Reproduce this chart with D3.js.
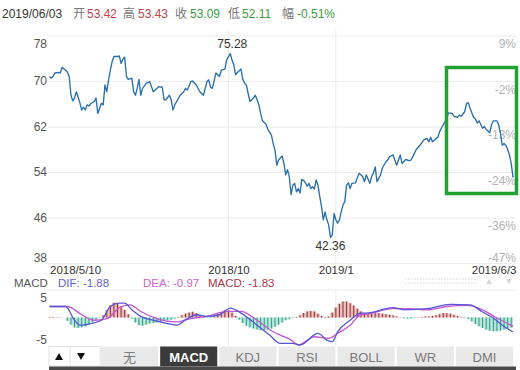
<!DOCTYPE html>
<html>
<head>
<meta charset="utf-8">
<script src="https://d3js.org/d3.v7.min.js"></script>
<style type="text/css">
    body{ margin: 0; background: #fff }
    svg{ font-family: "Liberation Sans", "Noto Sans CJK SC", sans-serif; }
    .grid line{ stroke: #ececec }
    .grid .domain, .noline .domain{ display: none }
</style>
</head>
<body>
<script type="text/javascript">
var width = 520,
    height = 370;

// header (last day)
var headDate = '2019/06/03';
var headLabels = ['开', '高', '收', '低', '幅'];
var headValues = ['53.42', '53.43', '53.09', '52.11', '-0.51%'];

// close prices: [trading day index, close]
var price = [
    [0,70.8],[1,70.5],[2,70.8],[3,71.4],[5,71.5],[6,71.4],[7,72.4],[9,71.9],[10,71.6],[11,70.8],
    [12,67.5],[13,66.5],[14,67.0],[15,68.1],[16,67.2],[17,66.1],[18,64.9],[19,65.4],[20,64.9],[21,65.8],
    [22,65.6],[23,66.0],[25,66.4],[26,67.0],[27,64.3],[28,65.2],[29,66.1],[30,65.8],[31,69.3],[32,68.1],
    [33,70.2],[34,71.9],[35,73.4],[36,74.3],[38,74.3],[39,74.4],[40,73.1],[41,73.8],[42,74.2],[43,70.8],
    [44,70.3],[46,70.5],[47,68.1],[48,67.5],[49,68.7],[50,70.3],[51,67.5],[52,68.7],[54,69.6],[56,69.9],
    [57,69.0],[58,68.1],[60,68.7],[61,69.0],[63,68.9],[64,66.7],[65,66.7],[67,67.5],[68,66.7],[69,64.9],
    [70,65.8],[73,67.5],[75,68.1],[76,68.7],[77,68.4],[79,69.9],[80,70.0],[82,69.3],[84,68.1],[86,67.5],
    [88,69.9],[89,70.2],[90,68.9],[91,68.7],[93,71.4],[95,70.8],[96,71.9],[98,72.1],[99,73.7],[101,74.8],
    [102,73.7],[103,72.8],[104,71.1],[105,71.5],[107,72.1],[108,70.3],[109,69.6],[110,69.3],[111,67.8],[112,66.4],
    [114,67.0],[115,67.5],[116,66.7],[117,65.8],[118,64.3],[119,63.0],[121,62.4],[122,61.5],[124,60.5],[125,59.0],
    [126,57.9],[127,55.2],[128,56.1],[130,56.8],[131,55.5],[132,53.5],[133,54.4],[134,53.2],[135,50.0],[136,51.7],
    [137,52.0],[138,50.5],[139,51.1],[140,50.3],[141,52.7],[142,52.5],[143,52.1],[144,51.5],[145,52.0],[146,51.1],
    [147,51.4],[148,51.0],[149,52.6],[150,51.7],[151,49.7],[152,47.9],[153,45.6],[154,47.0],[155,45.6],[156,44.7],
    [157,42.5],[158,42.9],[159,46.7],[160,45.6],[161,45.0],[162,45.6],[163,47.0],[164,48.2],[165,48.8],[166,51.7],
    [167,52.1],[168,51.1],[169,52.0],[171,52.1],[173,53.8],[175,53.2],[176,52.3],[177,53.5],[179,52.0],[180,53.2],
    [181,53.8],[182,54.9],[183,52.3],[185,53.5],[186,54.7],[188,55.8],[189,56.1],[190,56.7],[192,57.0],[194,55.2],
    [195,56.1],[196,57.0],[197,55.5],[199,56.2],[201,56.0],[202,56.1],[203,56.7],[205,58.0],[207,58.7],[209,59.6],
    [211,59.9],[212,59.3],[213,60.1],[214,59.3],[216,59.9],[217,60.1],[218,61.1],[220,62.3],[221,62.8],[223,64.4],
    [225,64.3],[226,63.8],[228,63.6],[229,64.0],[230,63.8],[232,64.6],[233,66.0],[234,66.2],[235,65.2],[237,63.6],
    [238,63.3],[239,62.6],[240,63.0],[242,61.7],[243,62.0],[244,61.5],[246,60.9],[247,62.3],[248,63.0],[250,63.0],
    [251,62.3],[252,60.8],[253,58.7],[254,59.0],[255,58.7],[256,58.0],[257,57.0],[258,55.5],[259,53.09]
];
var highMark = '75.28',
    lowMark = '42.36';

var priceTicks = [78, 70, 62, 54, 46, 38];
var pctLabels = ['9%', '-2%', '-13%', '-24%', '-36%', '-47%'];
var dateTickDays = [0, 100, 160, 259];
var dateLabels = ['2018/5/10', '2018/10', '2019/1', '2019/6/3'];

// MACD panel
var macdLegend = ['DIF: -1.88', 'DEA: -0.97', 'MACD: -1.83'];
var dif = [
    [0,2.0],[9,2.0],[14,-0.5],[17,-1.4],[23,-1.1],[29,-0.5],[34,2.0],[39,2.6],[42,2.6],[46,1.4],
    [51,0.2],[58,-0.5],[66,-1.1],[71,-1.4],[77,-0.2],[82,0.5],[88,0.2],[95,0.5],[101,1.7],[107,0.8],
    [116,-1.4],[123,-3.2],[129,-4.7],[136,-4.7],[140,-5.0],[150,-2.9],[155,-4.1],[158,-4.4],[161,-2.6],[168,-0.5],
    [174,0.8],[177,0.8],[192,1.8],[198,1.4],[211,1.6],[224,2.4],[235,2.3],[242,1.0],[248,-0.1],[253,-1.4],[259,-2.6]
];
var dea = [
    [0,2.0],[10,2.0],[18,0.5],[25,-0.5],[32,-0.2],[40,2.0],[45,2.3],[51,1.1],[60,-0.2],[71,-0.8],
    [79,-0.2],[88,0.2],[99,1.1],[107,1.1],[116,-0.5],[125,-2.6],[129,-3.2],[135,-4.1],[139,-5.0],[148,-3.5],
    [156,-3.8],[161,-2.9],[168,-1.4],[174,0.5],[177,0.6],[192,1.6],[201,1.6],[211,1.4],[222,2.0],[233,2.2],
    [242,1.4],[248,0.3],[253,-0.6],[259,-1.6]
];
// histogram, one value every 2 trading days
var macdBars = [
    0.1,0.1,0.05,0.05,0,-0.6,-1.3,-1.8,-1.9,-1.8,
    -1.6,-1.2,-0.8,-0.4,-0.1,0.4,1.3,2.2,2.7,2.5,
    2.0,1.4,0.6,-0.2,-0.9,-1.4,-1.5,-1.3,-1.1,-1.0,
    -0.9,-0.7,-0.6,-0.5,-0.4,-0.2,0.1,0.4,0.7,0.9,
    1.05,0.8,0.4,0.1,-0.1,-0.1,0.2,0.6,1.0,1.3,
    1.3,0.9,0.3,-0.4,-1.0,-1.5,-1.8,-2.0,-2.2,-2.3,
    -2.3,-2.2,-2.0,-1.7,-1.3,-0.9,-0.5,-0.3,-0.1,0.1,
    0.4,0.8,1.1,1.2,1.1,0.7,0.3,0.1,0.2,0.9,
    1.8,2.5,2.9,2.9,2.6,2.2,1.6,1.1,0.8,0.7,
    0.7,0.8,0.8,0.7,0.6,0.5,0.4,0.2,0.05,-0.15,
    -0.2,-0.2,-0.1,0.05,0.1,0.2,0.2,0.3,0.4,0.6,
    0.8,0.8,0.7,0.5,0.3,0.1,-0.1,-0.3,-0.7,-1.2,
    -1.6,-1.9,-2.2,-2.4,-2.5,-2.5,-2.4,-2.2,-2.0,-1.83
];
var macdTicks = [5, -5];

var tabs = ['无', 'MACD', 'KDJ', 'RSI', 'BOLL', 'WR', 'DMI'];
var activeTab = 'MACD';

var svg = d3.select('body')
    .append('svg')
        .attr('width', width)
        .attr('height', height);

var x = d3.scaleLinear().domain([0, 259]).range([49.5, 513]);
var y = d3.scaleLinear().domain([38, 78]).range([263, 35.5]);
var ym = d3.scaleLinear().domain([-5, 5]).range([345, 290]);

// header line
var head = svg.append('g').attr('font-size', 12);
head.append('text').attr('x', 2).attr('y', 18).attr('fill', '#333').text(headDate);
var headLabelX = [73, 123, 175, 228, 282],
    headValueX = [87, 138, 190, 242, 297],
    headColor = ['#c8414d', '#c8414d', '#3f9a45', '#3f9a45', '#3f9a45'];
head.selectAll('text.lab')
    .data(headLabels)
    .enter()
    .append('text')
        .attr('class', 'lab')
        .attr('x', function(d, i){ return headLabelX[i]; })
        .attr('y', 18)
        .attr('fill', '#777')
        .text(function(d){ return d; });
head.selectAll('text.val')
    .data(headValues)
    .enter()
    .append('text')
        .attr('class', 'val')
        .attr('x', function(d, i){ return headValueX[i]; })
        .attr('y', 18)
        .attr('fill', function(d, i){ return headColor[i]; })
        .text(function(d){ return d; });

// vertical grid lines (main + macd)
var vgrid = svg.append('g');
[[30, 263], [290, 346]].forEach(function(r){
    vgrid.selectAll(null)
        .data(dateTickDays.slice(1, 3))
        .enter()
        .append('line')
            .attr('x1', function(d){ return x(d); })
            .attr('x2', function(d){ return x(d); })
            .attr('y1', r[0])
            .attr('y2', r[1])
            .attr('stroke', '#ececec');
});

// left price axis with horizontal grid
var leftAxis = svg.append('g')
    .attr('class', 'grid')
    .attr('transform', 'translate(48,0)')
    .call(d3.axisLeft(y).tickValues(priceTicks).tickSize(-468).tickPadding(1));
leftAxis.selectAll('text')
    .attr('font-size', 12)
    .attr('fill', '#555')
    .attr('dy', function(d, i){ return i == 0 ? '1em' : (i == priceTicks.length - 1 ? '-0.12em' : '0.32em'); });

// right percent axis
var rightAxis = svg.append('g')
    .attr('class', 'noline')
    .attr('transform', 'translate(516,0)')
    .call(d3.axisRight(y).tickValues(priceTicks).tickSize(0).tickPadding(0)
        .tickFormat(function(d, i){ return pctLabels[i]; }));
rightAxis.selectAll('text')
    .attr('font-size', 12)
    .attr('fill', '#b3b3b3')
    .attr('text-anchor', 'end')
    .attr('x', 0)
    .attr('dy', function(d, i){ return i == priceTicks.length - 1 ? '-0.12em' : '1em'; });

// date axis
var xAxis = svg.append('g')
    .attr('class', 'noline')
    .attr('transform', 'translate(0,263)')
    .call(d3.axisBottom(x).tickValues(dateTickDays).tickSize(0).tickPadding(3)
        .tickFormat(function(d, i){ return dateLabels[i]; }));
xAxis.selectAll('text')
    .attr('font-size', 11.5)
    .attr('fill', '#333')
    .attr('text-anchor', function(d, i){ return i == 0 ? 'start' : (i == dateLabels.length - 1 ? 'end' : 'middle'); })
    .attr('dx', function(d, i){ return i == dateLabels.length - 1 ? 3 : 0; });

// price line
svg.append('path')
    .datum(price)
    .attr('fill', 'none')
    .attr('stroke', '#2a70ac')
    .attr('stroke-width', 1.35)
    .attr('stroke-linejoin', 'round')
    .attr('d', d3.line()
        .x(function(d){ return x(d[0]); })
        .y(function(d){ return y(d[1]); }));

// high / low marks
var hi = d3.greatest(price, function(d){ return d[1]; }),
    lo = d3.least(price, function(d){ return d[1]; });
svg.append('text')
    .attr('x', x(hi[0]) + 2).attr('y', y(+highMark) - 2.5)
    .attr('text-anchor', 'middle').attr('font-size', 12).attr('fill', '#333')
    .text(highMark);
svg.append('text')
    .attr('x', x(lo[0])).attr('y', y(+lowMark) + 11.5)
    .attr('text-anchor', 'middle').attr('font-size', 12).attr('fill', '#333')
    .text(lowMark);

// highlight box
svg.append('rect')
    .attr('x', 446.5).attr('y', 67.5)
    .attr('width', 70).attr('height', 126)
    .attr('fill', 'none')
    .attr('stroke', '#20a232')
    .attr('stroke-width', 3.5);

// faint zoom controls next to last date
var ctl = svg.append('g');
[279, 283].forEach(function(yy){
    ctl.append('line').attr('x1', 405).attr('x2', 478).attr('y1', yy).attr('y2', yy)
        .attr('stroke', '#d4d4d4').attr('stroke-dasharray', '1.5,1.5');
});
ctl.append('path').attr('d', 'M486,284 L492,284 L489,279 Z').attr('fill', '#d8d8d8');
ctl.append('path').attr('d', 'M506,279 L512,279 L509,284 Z').attr('fill', '#d8d8d8');

// macd legend
var leg = svg.append('g').attr('font-size', 11.5);
leg.append('text').attr('x', 14).attr('y', 287).attr('fill', '#555').text('MACD');
var legX = [58, 143, 208],
    legColor = ['#6262d4', '#cc66cc', '#b03845'];
leg.selectAll('text.it')
    .data(macdLegend)
    .enter()
    .append('text')
        .attr('class', 'it')
        .attr('x', function(d, i){ return legX[i]; })
        .attr('y', 287)
        .attr('fill', function(d, i){ return legColor[i]; })
        .text(function(d){ return d; });

// macd panel top line + axis
svg.append('line').attr('x1', 48).attr('x2', 516).attr('y1', 290).attr('y2', 290).attr('stroke', '#ececec');
var macdAxis = svg.append('g')
    .attr('class', 'noline')
    .attr('transform', 'translate(48,0)')
    .call(d3.axisLeft(ym).tickValues(macdTicks).tickSize(0).tickPadding(1)
        .tickFormat(function(d){ return String(d); }));
macdAxis.selectAll('text')
    .attr('font-size', 12)
    .attr('fill', '#555')
    .attr('dy', function(d, i){ return i == 0 ? '0.95em' : '-0.15em'; });

// histogram
var bars = svg.append('g');
bars.selectAll('rect')
    .data(macdBars)
    .enter()
    .append('rect')
        .attr('x', function(d, i){ return x(i * 2) - 1.8; })
        .attr('width', 3.6)
        .attr('y', function(d){ return ym(Math.max(0, d)); })
        .attr('height', function(d){ return Math.abs(ym(d) - ym(0)); })
        .attr('fill', function(d){ return d >= 0 ? '#e2b9b9' : '#b3e2d6'; });
bars.selectAll('line')
    .data(macdBars)
    .enter()
    .append('line')
        .attr('x1', function(d, i){ return x(i * 2); })
        .attr('x2', function(d, i){ return x(i * 2); })
        .attr('y1', function(d){ return ym(0); })
        .attr('y2', function(d){ return ym(d); })
        .attr('stroke', function(d){ return d >= 0 ? '#9c2f33' : '#2b9f86'; })
        .attr('stroke-width', 1);

var mline = d3.line()
    .curve(d3.curveMonotoneX)
    .x(function(d){ return x(d[0]); })
    .y(function(d){ return ym(d[1]); });
svg.append('path').datum(dea)
    .attr('fill', 'none').attr('stroke', '#c655d4').attr('stroke-width', 1.3).attr('d', mline);
svg.append('path').datum(dif)
    .attr('fill', 'none').attr('stroke', '#5656d6').attr('stroke-width', 1.3).attr('d', mline);

// tab bar
svg.append('rect').attr('x', 49).attr('y', 346.5).attr('width', 51).attr('height', 19.5)
    .attr('fill', '#fff').attr('stroke', '#e2e2e2');
svg.append('line').attr('x1', 70).attr('x2', 70).attr('y1', 347).attr('y2', 366).attr('stroke', '#e2e2e2');
svg.append('path').attr('d', 'M55,360 L63,360 L59,353 Z').attr('fill', '#111');
svg.append('path').attr('d', 'M77,353 L85,353 L81,360 Z').attr('fill', '#111');

var band = d3.scaleBand().domain(tabs).range([101, 513]).paddingInner(0.035);
var tab = svg.selectAll('g.tab')
    .data(tabs)
    .enter()
    .append('g')
        .attr('class', 'tab')
        .attr('transform', function(d){ return 'translate(' + band(d) + ',346.5)'; });
tab.append('rect')
    .attr('width', band.bandwidth())
    .attr('height', 20)
    .attr('fill', function(d){ return d == activeTab ? '#3b3b3b' : '#e9e9e9'; });
tab.append('text')
    .attr('x', band.bandwidth() / 2)
    .attr('y', 15)
    .attr('text-anchor', 'middle')
    .attr('font-size', 13)
    .attr('font-weight', function(d){ return d == activeTab ? 'bold' : 'normal'; })
    .attr('fill', function(d){ return d == activeTab ? '#fff' : '#7a7a7a'; })
    .text(function(d){ return d; });

svg.append('rect').attr('x', 49).attr('y', 366.5).attr('width', 467).attr('height', 3.5).attr('fill', '#4a4a4a');
</script>
</body>
</html>
